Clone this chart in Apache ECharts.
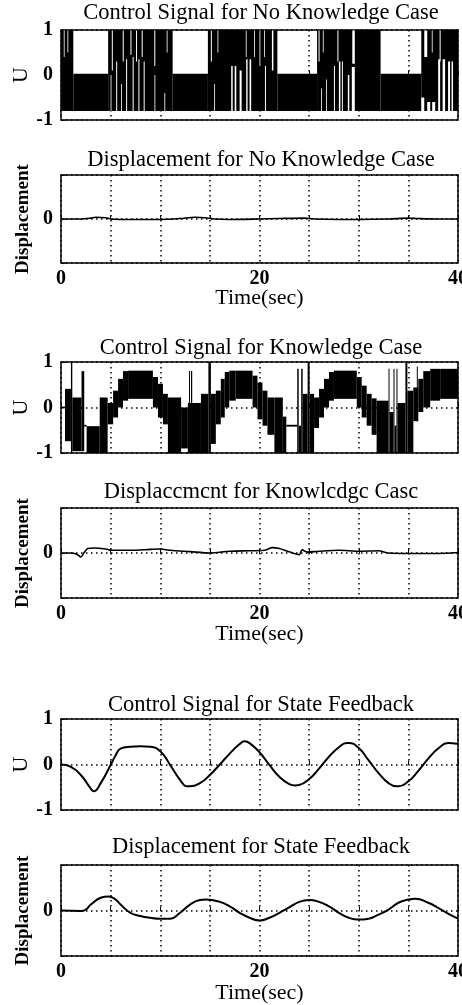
<!DOCTYPE html>
<html>
<head>
<meta charset="utf-8">
<style>
    html, body { margin: 0; padding: 0; background: #fff; }
    #main { width: 462px; height: 1005px; }
</style>
</head>
<body>
<div id="main"></div>
<script src="https://cdn.jsdelivr.net/npm/echarts@6/dist/echarts.min.js"></script>
<script>
// 控制信号 (无知识) : 抖振带 [t0, t1, 下限, 上限]
var nkBands = [
    [0, 1.24, -0.8, 1], [1.24, 4.75, -0.8, 0.03], [4.75, 11.25, -0.8, 1],
    [11.25, 14.8, -0.8, 0.03], [14.8, 21.8, -0.8, 1], [21.8, 25.8, -0.8, 0.03],
    [25.8, 32.2, -0.8, 1], [32.2, 36.3, -0.8, 0.03], [36.3, 40, -0.8, 1]
];
// 抖振带里的白色空隙
var nkGaps = [
    [0.28, 0.36, 0.4, 0.99], [0.65, 0.72, 0.5, 0.99], [5.12, 5.22, 0.1, 0.99], [6.22, 6.32, 0.3, 0.99],
    [7.0, 7.1, 0.45, 0.99], [7.56, 7.66, 0.3, 0.99], [8.13, 8.23, 0.4, 0.99], [9.4, 9.5, 0.2, 0.99],
    [10.65, 10.73, 0.5, 0.99], [15.1, 15.2, 0.3, 0.99], [15.77, 15.85, 0.5, 0.99], [18.62, 18.7, 0.4, 0.99],
    [19.46, 19.54, 0.4, 0.99], [20.0, 20.08, 0.2, 0.99], [20.46, 20.54, 0.4, 0.99], [21.25, 21.4, 0.1, 0.99],
    [25.95, 26.05, 0.3, 0.99], [26.38, 26.45, 0.5, 0.99], [27.85, 27.95, 0.3, 0.99], [29.35, 29.6, 0.25, 0.99],
    [36.6, 36.9, 0.4, 0.99], [37.36, 37.44, 0.5, 0.99], [38.15, 38.25, 0.3, 0.99],
    [5.0, 5.08, -0.8, 0.0], [5.56, 5.66, -0.8, 0.3], [6.06, 6.14, -0.8, -0.2], [6.56, 6.66, -0.8, 0.35],
    [7.22, 7.32, -0.8, 0.4], [7.8, 7.9, -0.8, 0.35], [8.33, 8.43, -0.8, 0.3], [9.42, 9.5, -0.8, 0.0],
    [10.42, 10.5, -0.8, -0.4], [15.44, 15.52, -0.8, -0.2], [17.15, 17.3, -0.8, 0.2], [17.5, 17.66, -0.8, 0.2],
    [18.0, 18.2, -0.8, 0.1], [18.66, 18.8, -0.8, 0.35], [19.0, 19.16, -0.8, 0.35], [20.55, 20.65, -0.8, 0.2],
    [26.2, 26.28, -0.8, -0.3], [26.7, 26.78, -0.8, -0.1], [27.5, 27.6, -0.8, 0.2], [28.0, 28.15, -0.8, 0.3],
    [28.3, 28.4, -0.8, 0.3], [28.9, 29.05, -0.8, 0.0], [29.3, 29.6, -0.8, 0.18], [36.3, 36.6, -0.8, -0.5],
    [36.9, 37.2, -0.8, -0.6], [37.4, 37.7, -0.8, -0.6], [38.0, 38.2, -0.8, 0.35], [38.45, 38.7, -0.8, 0.35],
    [39.0, 39.2, -0.8, 0.3], [39.35, 39.5, -0.8, 0.3]
];

// 位移 (无知识)
var nkTime = [0, 2, 3, 3.5, 4.5, 5, 6, 8, 10, 12, 13.5, 14.5, 15.5, 17, 20, 22, 24.5, 25.5, 28, 30, 33, 35, 36, 38, 40];
var nkDisp = [0, 0, 0.02, 0.04, 0.03, 0, -0.01, -0.01, -0.01, 0.01, 0.04, 0.03, 0, -0.01, 0, 0.01, 0.02, 0, -0.01, -0.01, 0, 0.02, 0.01, 0, 0];

// 控制信号 (有知识) : [t0, t1, 下限, 上限]
var kBands = [
    [0, 0.4, -0.02, 0.02], [0.4, 1.0, -0.74, 0.41], [1.0, 1.14, -1, 1], [1.14, 2.07, -0.96, 0.22],
    [2.07, 2.34, -0.96, 0.8], [2.34, 2.58, -0.42, -0.38], [2.58, 3.9, -1, -0.41], [3.9, 4.7, -1, 0.22],
    [4.7, 5.25, -0.37, 0.1], [5.25, 5.75, -0.22, 0.37], [5.75, 6.25, 0.0, 0.63], [6.25, 6.76, 0.15, 0.8],
    [6.76, 9.26, 0.19, 0.81], [9.26, 9.77, 0.0, 0.67], [9.77, 10.27, -0.22, 0.52], [10.27, 10.77, -0.37, 0.3],
    [10.77, 12.1, -1, 0.22], [12.1, 12.78, -0.9, 0.0], [12.78, 14.1, -1, 0.1], [12.9, 13.0, -1, 0.8],
    [13.1, 13.22, -1, 0.8], [14.1, 14.85, -1, 0.3], [14.85, 15.1, -1, 1], [15.1, 15.6, -0.8, 0.3],
    [15.6, 16.1, -0.37, 0.37], [16.1, 16.5, -0.22, 0.63], [16.5, 16.95, 0.0, 0.78], [16.95, 17.6, 0.15, 0.81],
    [17.6, 19.3, 0.19, 0.81], [19.3, 19.8, 0.0, 0.7], [19.8, 20.3, -0.26, 0.55], [20.3, 20.8, -0.4, 0.37],
    [20.8, 21.5, -0.6, 0.22], [21.5, 22.35, -1, 0.22], [22.35, 22.7, -1, -0.2], [22.7, 23.8, -0.42, -0.38],
    [23.8, 23.95, -1, 0.85], [23.95, 24.2, -1, -0.4], [24.2, 24.35, -1, 0.85], [24.35, 24.85, -1, 0.3],
    [24.85, 25.05, -1, 1], [25.05, 25.5, -1, 0.3], [25.5, 26.0, -0.45, 0.22], [26.0, 26.5, -0.22, 0.41],
    [26.5, 27.0, 0.0, 0.63], [27.0, 27.5, 0.15, 0.78], [27.5, 29.8, 0.19, 0.81], [29.8, 30.3, 0.0, 0.67],
    [30.3, 30.8, -0.22, 0.48], [30.8, 31.3, -0.4, 0.3], [31.3, 31.8, -0.6, 0.2], [31.8, 33.0, -1, 0.15],
    [33.0, 33.1, -1, 0.85], [33.1, 33.5, -1, -0.1], [33.5, 33.6, -1, 0.85], [33.6, 33.8, -1, -0.4],
    [33.8, 33.9, -1, 0.85], [33.9, 34.7, -1, 0.1], [34.7, 34.9, -1, 1], [34.9, 35.5, -1, 0.37],
    [35.5, 36.0, -0.3, 0.44], [35.85, 35.95, -0.3, 0.9], [36.0, 36.5, -0.1, 0.63], [36.5, 37.2, 0.0, 0.8],
    [37.2, 38.2, 0.15, 0.85], [38.2, 40, 0.19, 0.85]
];

// 位移 (有知识)
var kTime = [0, 1, 1.6, 2, 2.3, 2.7, 3.3, 4.5, 5, 7, 9, 10, 11, 13, 15, 17, 19, 20.5, 21.3, 22, 22.8, 23.5, 24, 24.3, 24.8, 26, 28, 30, 32, 33, 35, 38, 40];
var kDisp = [0, 0, -0.03, -0.09, 0, 0.1, 0.11, 0.09, 0.06, 0.06, 0.08, 0.09, 0.06, 0.03, 0, 0.04, 0.05, 0.06, 0.12, 0.1, 0.04, -0.01, -0.04, 0.07, 0.02, 0.04, 0.06, 0.04, 0.05, 0, -0.01, -0.01, 0.01];

// 状态反馈
var sfTime = [0, 1, 2, 3, 3.3, 4, 5, 5.5, 6, 7, 8, 9, 10, 11, 12, 12.7, 13, 14, 15, 16, 17, 18, 18.5, 19, 20, 21, 22, 23, 23.6, 24, 25, 26, 27, 28, 28.8, 29, 30, 31, 32, 33, 33.8, 34, 35, 36, 37, 38, 39, 40];
var sfU = [0, -0.05, -0.23, -0.53, -0.59, -0.41, -0.01, 0.2, 0.35, 0.39, 0.40, 0.39, 0.29, -0.01, -0.34, -0.48, -0.48, -0.41, -0.23, 0, 0.24, 0.45, 0.51, 0.47, 0.27, -0.01, -0.27, -0.43, -0.46, -0.45, -0.32, -0.09, 0.17, 0.38, 0.47, 0.47, 0.36, 0.09, -0.19, -0.41, -0.48, -0.48, -0.37, -0.14, 0.13, 0.35, 0.47, 0.45];
var sfDispTime = [0, 2, 2.5, 3, 4, 4.8, 5.5, 6, 7, 8, 9, 10, 11, 12, 13, 14, 14.6, 16, 17, 18, 19, 20, 21, 22, 23, 24, 25, 26, 27, 28, 29, 30, 31, 32, 33, 34, 35, 35.7, 37, 38, 39, 40];
var sfDisp = [0, -0.01, 0.02, 0.13, 0.28, 0.31, 0.24, 0.13, -0.05, -0.12, -0.16, -0.18, -0.18, -0.05, 0.13, 0.23, 0.24, 0.19, 0.09, -0.05, -0.16, -0.22, -0.16, -0.05, 0.07, 0.19, 0.23, 0.19, 0.09, -0.05, -0.16, -0.2, -0.18, -0.09, 0.02, 0.17, 0.24, 0.26, 0.17, 0.06, -0.07, -0.18];

var titles = [
    'Control Signal for No Knowledge Case', 'Displacement for No Knowledge Case',
    'Control Signal for Knowledge Case', 'Displaccmcnt for Knowlcdgc Casc',
    'Control Signal for State Feedback', 'Displacement for State Feedback'
];
var yNames = ['U', 'Displacement', 'U', 'Displacement', 'U', 'Displacement'];
var xTickLabels = [0, 20, 40];

(function () {
    var font = 'Liberation Serif';
    var myChart = echarts.init(document.getElementById('main'));

    // 每个子图的上边界和高度 (像素)
    var tops = [30, 175, 362, 508, 719, 865];
    var heights = [90, 88, 91, 90, 91, 91];
    var titleY = [13, 160, 348, 492, 705, 847];
    var nameGaps = [24, 24, 24, 25, 24, 26];
    var dotted = { color: '#000', type: [1.5, 3.5], width: 1.5 };

    function zip(t, v) {
        return t.map(function (x, i) { return [x, v[i]]; });
    }

    function bandItem(color) {
        return function (params, api) {
            var a = api.coord([api.value(0), api.value(3)]);
            var b = api.coord([api.value(1), api.value(2)]);
            return {
                type: 'rect',
                shape: { x: a[0], y: a[1], width: Math.max(b[0] - a[0], 0.8), height: b[1] - a[1] },
                style: { fill: color }
            };
        };
    }

    var grid = [], xAxis = [], yAxis = [], title = [];
    for (var i = 0; i < 6; i++) {
        var isDisp = i % 2 === 1;
        grid.push({
            left: 61, width: 397, top: tops[i], height: heights[i],
            containLabel: false, outerBoundsMode: 'none',
            show: true, borderColor: '#000', borderWidth: 1.5
        });
        title.push({
            text: titles[i], left: 261, top: titleY[i] - 11, textAlign: 'center', padding: 0,
            textStyle: { fontFamily: font, fontSize: 22.5, fontWeight: 'normal', color: '#000', lineHeight: 22 }
        });
        xAxis.push({
            type: 'value', gridIndex: i, min: 0, max: 40, interval: 5,
            axisLine: { show: false },
            axisTick: { show: true, inside: true, length: 4, lineStyle: { color: '#000' } },
            axisLabel: {
                show: isDisp, margin: 6, color: '#000', fontFamily: font, fontSize: 20, fontWeight: 'bold',
                formatter: function (v) { return xTickLabels.indexOf(v) >= 0 ? String(v) : ''; }
            },
            splitLine: { show: true, lineStyle: dotted },
            name: isDisp ? 'Time(sec)' : '', nameLocation: 'middle', nameGap: nameGaps[i],
            nameMoveOverlap: false,
            nameTextStyle: { fontFamily: font, fontSize: 22, color: '#000' }
        });
        yAxis.push({
            type: 'value', gridIndex: i, min: -1, max: 1, interval: 1,
            axisLine: { show: false },
            axisTick: { show: true, inside: true, length: 4, lineStyle: { color: '#000' } },
            axisLabel: {
                margin: 8, color: '#000', fontFamily: font, fontSize: 20, fontWeight: 'bold',
                formatter: (function (d) {
                    return function (v) { return (!d || v === 0) ? String(v) : ''; };
                })(isDisp)
            },
            splitLine: { show: true, lineStyle: dotted },
            name: yNames[i], nameLocation: 'middle', nameGap: isDisp ? 28 : 29,
            nameMoveOverlap: false,
            nameTextStyle: { fontFamily: font, fontSize: isDisp ? 19 : 22, fontWeight: isDisp ? 'bold' : 'normal', color: '#000' }
        });
    }

    var lineStyle = { color: '#000', width: 1.6 };
    var option = {
        backgroundColor: '#fff',
        animation: false,
        title: title,
        grid: grid,
        xAxis: xAxis,
        yAxis: yAxis,
        series: [
            { type: 'custom', xAxisIndex: 0, yAxisIndex: 0, data: nkBands, encode: { x: [0, 1], y: [2, 3] }, renderItem: bandItem('#000') },
            { type: 'custom', xAxisIndex: 0, yAxisIndex: 0, data: nkGaps, encode: { x: [0, 1], y: [2, 3] }, renderItem: bandItem('#fff') },
            { type: 'line', xAxisIndex: 1, yAxisIndex: 1, data: zip(nkTime, nkDisp), showSymbol: false, smooth: 0.3, lineStyle: lineStyle },
            { type: 'custom', xAxisIndex: 2, yAxisIndex: 2, data: kBands, encode: { x: [0, 1], y: [2, 3] }, renderItem: bandItem('#000') },
            { type: 'line', xAxisIndex: 3, yAxisIndex: 3, data: zip(kTime, kDisp), showSymbol: false, smooth: 0.3, lineStyle: lineStyle },
            { type: 'line', xAxisIndex: 4, yAxisIndex: 4, data: zip(sfTime, sfU), showSymbol: false, smooth: true, lineStyle: { color: '#000', width: 2 } },
            { type: 'line', xAxisIndex: 5, yAxisIndex: 5, data: zip(sfDispTime, sfDisp), showSymbol: false, smooth: true, lineStyle: { color: '#000', width: 2 } }
        ]
    };

    myChart.setOption(option);

    window.addEventListener('resize', function () {
        myChart.resize();
    });
})();
</script>
</body>
</html>
